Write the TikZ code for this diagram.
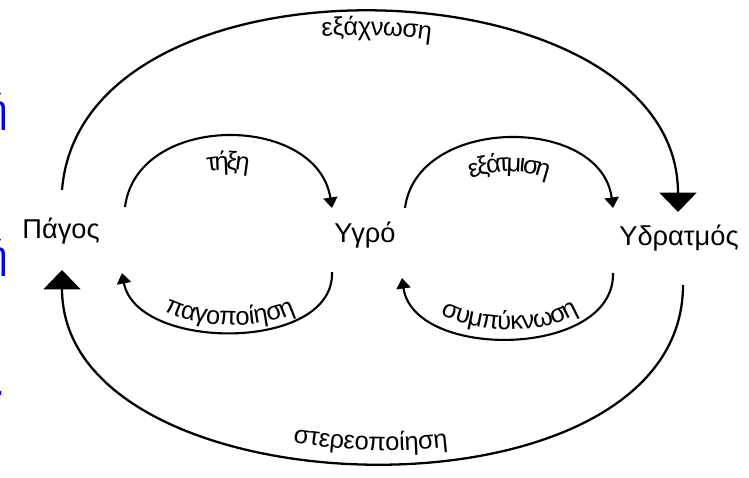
\documentclass[tikz,border=0pt]{standalone}
\usepackage{fontspec}
\setmainfont{Liberation Sans}
\usepackage{tikz}
\usetikzlibrary{positioning,calc,arrows.meta,decorations.text}
\newcommand{\arcfont}{\fontsize{14.5}{17}\selectfont}

\begin{document}
\begin{tikzpicture}[x=0.02cm, y=0.02cm,
    state/.style={font=\fontsize{15.5}{18}\selectfont, inner sep=0pt, anchor=base},
    frag/.style={text=blue, font=\fontsize{22}{26}\selectfont, inner sep=0pt, anchor=base east},
    outer/.style={line width=1.3pt, -{Triangle[width=21pt,length=11pt]}},
    inner/.style={line width=1.2pt, -{Triangle[width=8pt,length=6pt]}},
    along/.style 2 args={decorate, decoration={text along path, text align=center, raise=#2, text={|\arcfont|#1}}}]
    \useasboundingbox (0,0) rectangle (749,477);
    \clip (0,0) rectangle (749,477);
    \node[frag] (frag1) at (8,354) {ή};
    \node[frag] (frag2) at (8,209) {ή};
    \node[frag] (frag3) at (6,82) {.};
    \node[state] (pagos) at (61,239) {Πάγος};
    \node[state] (ygro) at (365,235) {Υγρό};
    \node[state] (ydratmos) at (679,232) {Υδρατμός};

    \coordinate (exa) at ($(pagos.base)+(1,48)$);
    \coordinate (exb) at ($(ydratmos.base)+(-1,33)$);
    \coordinate (sta) at ($(ydratmos.base)+(4,-40)$);
    \coordinate (stb) at ($(pagos.base)+(1,-32)$);
    \coordinate (tha) at ($(pagos.base)+(64,31)$);
    \coordinate (thb) at ($(ygro.base)+(-33,34)$);
    \coordinate (paa) at ($(ygro.base)+(-33,-30)$);
    \coordinate (pab) at ($(pagos.base)+(61,-35)$);
    \coordinate (eta) at ($(ygro.base)+(40,34)$);
    \coordinate (etb) at ($(ydratmos.base)+(-66,37)$);
    \coordinate (sya) at ($(ydratmos.base)+(-66,-28)$);
    \coordinate (syb) at ($(ygro.base)+(37,-36)$);

    \draw[outer] (exa) .. controls +(20,250) and +(0,252) .. (exb);
    \path[along={εξάχνωση}{-13pt}] (exa) .. controls +(20,250) and +(0,252) .. (exb);
    \draw[outer] (sta) .. controls +(0,-247) and +(0,-246) .. (stb);
    \path[along={στερεοποίηση}{7pt}] (stb) .. controls +(0,-246) and +(0,-247) .. (sta);

    \draw[inner] (tha) .. controls +(12,95) and +(-15,95) .. (thb);
    \path[along={τήξη}{-19pt}] (tha) .. controls +(12,95) and +(-15,95) .. (thb);
    \draw[inner] (paa) .. controls +(3,-80) and +(15,-79) .. (pab);
    \path[along={παγοποίηση}{4pt}] (pab) .. controls +(15,-79) and +(3,-80) .. (paa);
    \draw[inner] (eta) .. controls +(12,93) and +(-12,93) .. (etb);
    \path[along={εξάτμιση}{-19pt}] (eta) .. controls +(12,93) and +(-12,93) .. (etb);
    \draw[inner] (sya) .. controls +(2,-85) and +(12,-83) .. (syb);
    \path[along={συμπύκνωση}{5pt}] (syb) .. controls +(12,-83) and +(2,-85) .. (sya);
\end{tikzpicture}
\end{document}
